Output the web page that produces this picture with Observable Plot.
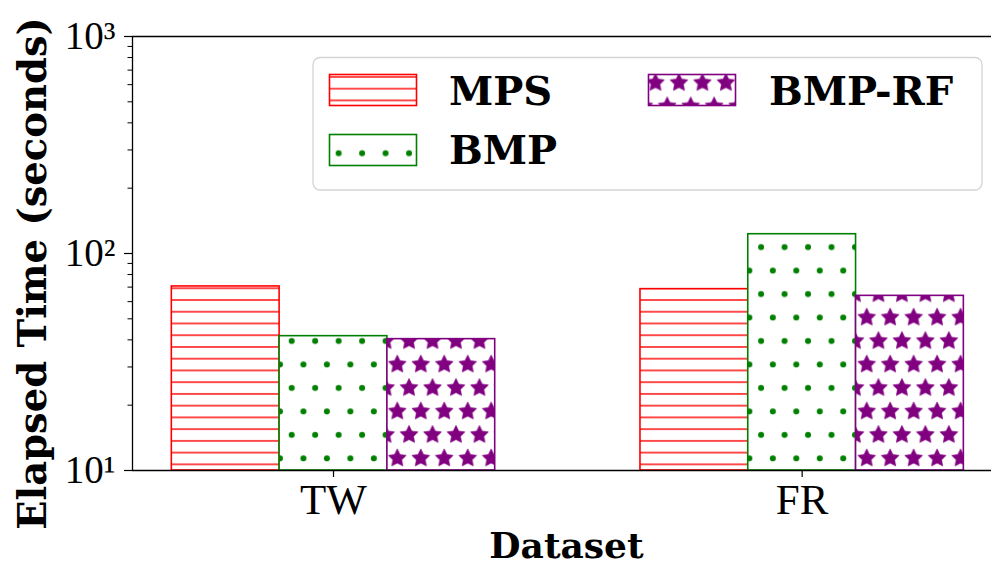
<!DOCTYPE html>
<html><head><meta charset="utf-8">
<script src="https://cdn.jsdelivr.net/npm/d3@7"></script>
<script src="https://cdn.jsdelivr.net/npm/@observablehq/plot@0.6"></script>
<style>html,body{margin:0;padding:0;background:#fff;overflow:hidden;color:#000}</style>
</head><body><div id="chart"></div>
<script>
// ---- data ----
const datasets = ["TW", "FR"];
const methods = ["MPS", "BMP", "BMP-RF"];
const mpsValues = [70.5, 68.5];
const bmpValues = [41.6, 122.7];
const bmpRfValues = [40.3, 63.8];
const yMajorTicks = [10, 100, 1000];
const yTickLabels = ["10¹", "10²", "10³"];
const yMinorTicks = [20, 30, 40, 50, 60, 70, 80, 90, 200, 300, 400, 500, 600, 700, 800, 900];
const methodColors = ["#ff0000", "#008000", "#800080"];
const xLabel = "Dataset";
const yLabel = "Elapsed Time (seconds)";

const seriesValues = [mpsValues, bmpValues, bmpRfValues];
const barWidth = 0.23;
const xDomain = [-0.4289, 1.404];
const yDomain = [10, 1000];
const rows = [];
methods.forEach((m, mi) => datasets.forEach((d, di) =>
  rows.push({method: m, mi, dataset: d, di, value: seriesValues[mi][di]})));

const P = 23.47;
function starPath(cx, cy, R, ratio) {
  const pts = [];
  for (let k = 0; k < 10; k++) {
    const r = k % 2 === 0 ? R : R * ratio;
    const a = -Math.PI / 2 + k * Math.PI / 5;
    pts.push([cx + r * Math.cos(a), cy + r * Math.sin(a)]);
  }
  return "M" + pts.map(p => p.join(",")).join("L") + "Z";
}

function defsMark(index, scales, values, dims, context) {
  const g = d3.create("svg:g");
  const defs = g.append("defs");
  // horizontal lines
  const h = 11.74;
  const p0 = defs.append("pattern").attr("id", "pat-0").attr("patternUnits", "userSpaceOnUse")
    .attr("x", 0).attr("y", 0.63).attr("width", 10).attr("height", h);
  p0.append("rect").attr("width", 10).attr("height", h).attr("fill", "#fff");
  p0.append("line").attr("x1", 0).attr("x2", 10).attr("y1", h / 2).attr("y2", h / 2)
    .attr("stroke", methodColors[0]).attr("stroke-width", 1.4);
  // dots
  const p1 = defs.append("pattern").attr("id", "pat-1").attr("patternUnits", "userSpaceOnUse")
    .attr("x", 21.8).attr("y", 0.69).attr("width", P).attr("height", 2 * P);
  p1.append("rect").attr("width", P).attr("height", 2 * P).attr("fill", "#fff");
  for (const [cx, cy] of [[P / 2, P / 2], [0, 1.5 * P], [P, 1.5 * P]])
    p1.append("circle").attr("cx", cx).attr("cy", cy).attr("r", 3).attr("fill", methodColors[1]);
  // stars
  const p2 = defs.append("pattern").attr("id", "pat-2").attr("patternUnits", "userSpaceOnUse")
    .attr("x", 21.8).attr("y", 0.69).attr("width", P).attr("height", 2 * P);
  p2.append("rect").attr("width", P).attr("height", 2 * P).attr("fill", "#fff");
  for (const [cx, cy] of [[P / 2, P / 2], [0, 1.5 * P], [P, 1.5 * P]])
    p2.append("path").attr("d", starPath(cx, cy, 9.4, 0.5)).attr("fill", methodColors[2])
      .attr("stroke", methodColors[2]).attr("stroke-width", 0.6).attr("stroke-linejoin", "round");
  return g.node();
}

function legendMark(index, scales, values, dims, context) {
  const g = d3.create("svg:g").attr("text-anchor", "start");
  g.append("rect").attr("x", 313).attr("y", 57.5).attr("width", 669).attr("height", 132.5)
    .attr("rx", 7).attr("fill", "#fff").attr("fill-opacity", 0.8)
    .attr("stroke", "#d4d4d4").attr("stroke-width", 1.3);
  const entries = [
    {x: 329.5, y: 74.5, tx: 449, ty: 105},
    {x: 329.5, y: 134.5, tx: 449, ty: 164},
    {x: 648.5, y: 74.5, tx: 769, ty: 105}
  ];
  methods.forEach((m, i) => {
    const e = entries[i];
    g.append("rect").attr("x", e.x).attr("y", e.y).attr("width", 87).attr("height", 31)
      .attr("fill", `url(#pat-${i})`).attr("stroke", methodColors[i]).attr("stroke-width", 1.6);
    g.append("text").attr("x", e.tx).attr("y", e.ty).text(m)
      .attr("text-anchor", "start")
      .attr("font-family", "DejaVu Serif").attr("font-weight", "bold").attr("font-size", 40)
      .attr("fill", "#000");
  });
  return g.node();
}

const barMarks = methods.map((m, mi) => Plot.rect(rows.filter(r => r.method === m), {
  x1: r => r.di + (r.mi - 1.5) * barWidth,
  x2: r => r.di + (r.mi - 0.5) * barWidth,
  y1: () => yDomain[0],
  y2: "value",
  fill: `url(#pat-${mi})`,
  stroke: methodColors[mi],
  strokeWidth: 1.6
}));

const chart = Plot.plot({
  width: 991,
  height: 565,
  marginLeft: 132,
  marginRight: 0,
  marginTop: 36,
  marginBottom: 95,
  style: {background: "#fff", color: "#000", overflow: "hidden"},
  x: {type: "linear", domain: xDomain},
  y: {type: "log", domain: yDomain},
  marks: [
    defsMark,
    ...barMarks,
    Plot.ruleY([yDomain[1]], {stroke: "#000", strokeWidth: 1.3}),
    Plot.ruleY([yDomain[0]], {stroke: "#000", strokeWidth: 1.3}),
    Plot.ruleX([xDomain[0]], {stroke: "#000", strokeWidth: 1.3}),
    Plot.axisY({ticks: yMinorTicks, tickSize: 4.5, tickFormat: () => "", label: null, stroke: "#000", strokeWidth: 1}),
    Plot.axisY({ticks: yMajorTicks, tickSize: 8, tickPadding: 9, label: null,
      tickFormat: d => yTickLabels[yMajorTicks.indexOf(d)],
      fontSize: 39, fontFamily: "Liberation Serif", stroke: "#000", strokeWidth: 1.2, fill: "#000"}),
    Plot.axisX({ticks: datasets.map((d, i) => i), tickSize: 7, tickPadding: 6, label: null,
      tickFormat: i => datasets[i],
      fontSize: 43, fontFamily: "Liberation Serif", stroke: "#000", strokeWidth: 1.2, fill: "#000"}),
    Plot.text([xLabel], {frameAnchor: "bottom", dx: 4.5, dy: 87, lineAnchor: "bottom",
      fontSize: 36, fontWeight: "bold", fontFamily: "DejaVu Serif", fill: "#000"}),
    Plot.text([yLabel], {frameAnchor: "left", rotate: -90, dx: -87, dy: 20, lineAnchor: "bottom",
      textAnchor: "middle", fontSize: 38.5, fontWeight: "bold", fontFamily: "DejaVu Serif", fill: "#000"}),
    legendMark
  ]
});
document.getElementById("chart").appendChild(chart);
</script>
</body></html>
